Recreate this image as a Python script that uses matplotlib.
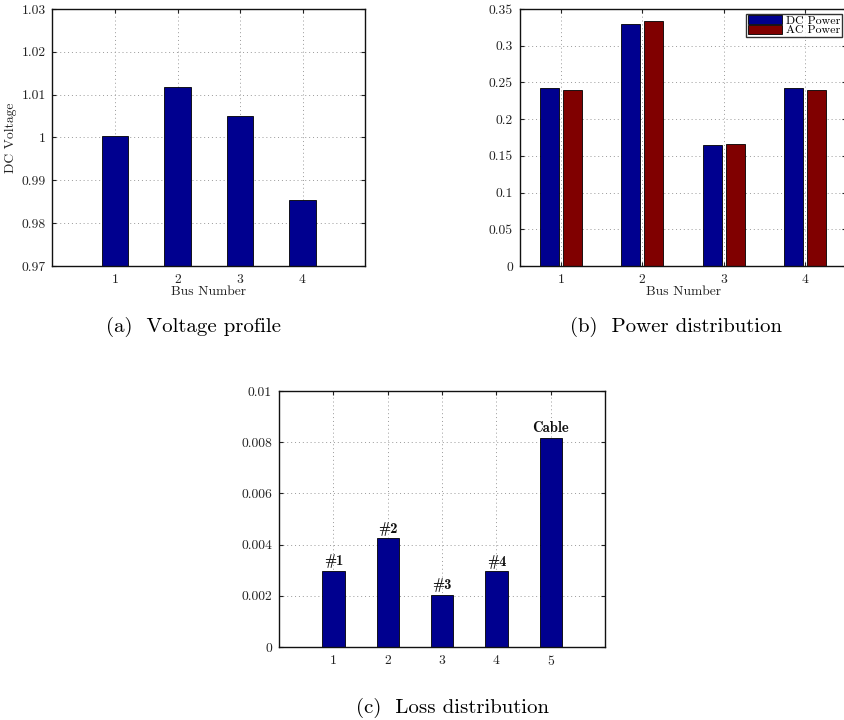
import numpy as np
import matplotlib
matplotlib.use("Agg")
import matplotlib.pyplot as plt

# bus data
buses = [1, 2, 3, 4]
dc_voltage = [1.0004, 1.0117, 1.0051, 0.9854]
dc_power = [0.2428, 0.3290, 0.1648, 0.2428]
ac_power = [0.2397, 0.3335, 0.1666, 0.2397]

loss_idx = [1, 2, 3, 4, 5]
loss = [0.00298, 0.00424, 0.00203, 0.00295, 0.00817]
loss_labels = ["#1", "#2", "#3", "#4", "Cable"]

blue = "#00008f"
red = "#800000"

plt.rcParams["font.family"] = ["cmr10", "DejaVu Serif"]
plt.rcParams["axes.formatter.use_mathtext"] = True

fs = 9.8


def style(ax):
    ax.grid(True, linestyle=(0, (1, 3)), color="#999999", linewidth=0.7)
    ax.set_axisbelow(True)
    ax.tick_params(direction="in", length=3, width=0.8, top=True, right=True,
                   labelsize=fs, colors="#222222", pad=5)
    for s in ax.spines.values():
        s.set_linewidth(1.0)
        s.set_color("#111111")


fig = plt.figure(figsize=(8.44, 7.2), dpi=100)

# (a) voltage profile
ax1 = fig.add_axes([0.0622, 0.6306, 0.3703, 0.3569])
ax1.bar(buses, dc_voltage, width=0.42, color=blue, edgecolor="black", linewidth=0.6)
ax1.set_xlim(0, 5)
ax1.set_ylim(0.97, 1.03)
ax1.set_xticks(buses)
ax1.set_yticks([0.97, 0.98, 0.99, 1.0, 1.01, 1.02, 1.03])
ax1.set_yticklabels(["0.97", "0.98", "0.99", "1", "1.01", "1.02", "1.03"])
ax1.set_xlabel("Bus Number", fontsize=fs, labelpad=0, color="#222222")
ax1.set_ylabel("DC Voltage", fontsize=fs, labelpad=3, color="#222222")
style(ax1)

# (b) power distribution
ax2 = fig.add_axes([0.6161, 0.6306, 0.3863, 0.3569])
x = np.array(buses)
ax2.bar(x - 0.143, dc_power, width=0.233, color=blue, edgecolor="black",
        linewidth=0.6, label="DC Power")
ax2.bar(x + 0.143, ac_power, width=0.233, color=red, edgecolor="black",
        linewidth=0.6, label="AC Power")
ax2.set_xlim(0.5, 4.5)
ax2.set_ylim(0, 0.35)
ax2.set_xticks(buses)
ax2.set_yticks([0, 0.05, 0.1, 0.15, 0.2, 0.25, 0.3, 0.35])
ax2.set_yticklabels(["0", "0.05", "0.1", "0.15", "0.2", "0.25", "0.3", "0.35"])
ax2.set_xlabel("Bus Number", fontsize=fs, labelpad=0, color="#222222")
style(ax2)
leg = ax2.legend(loc="upper right", bbox_to_anchor=(0.988, 0.982), fontsize=8.6,
                 frameon=True, fancybox=False, edgecolor="black", handlelength=2.9,
                 handleheight=0.75, labelspacing=-0.1, borderpad=0.15,
                 handletextpad=0.3, borderaxespad=0.0)
leg.get_frame().set_linewidth(1.0)

# (c) loss distribution
ax3 = fig.add_axes([0.3306, 0.1014, 0.3863, 0.3556])
ax3.bar(loss_idx, loss, width=0.41, color=blue, edgecolor="black", linewidth=0.6)
ax3.set_xlim(0, 6)
ax3.set_ylim(0, 0.01)
ax3.set_xticks(loss_idx)
ax3.set_yticks([0, 0.002, 0.004, 0.006, 0.008, 0.01])
ax3.set_yticklabels(["0", "0.002", "0.004", "0.006", "0.008", "0.01"])
style(ax3)
for xi, v, lab in zip(loss_idx, loss, loss_labels):
    ax3.annotate(lab, (xi, v), xytext=(0, 2), textcoords="offset points",
                 ha="center", va="bottom", fontsize=10.5, family="cmb10",
                 color="#111111")

# captions
fig.text(194 / 844, 1 - 327 / 720, "(a)  Voltage profile", ha="center", va="center",
         fontsize=15)
fig.text(676 / 844, 1 - 327 / 720, "(b)  Power distribution", ha="center", va="center",
         fontsize=15)
fig.text(452 / 844, 1 - 708 / 720, "(c)  Loss distribution", ha="center", va="center",
         fontsize=15)

fig.savefig("out.png", dpi=100)
